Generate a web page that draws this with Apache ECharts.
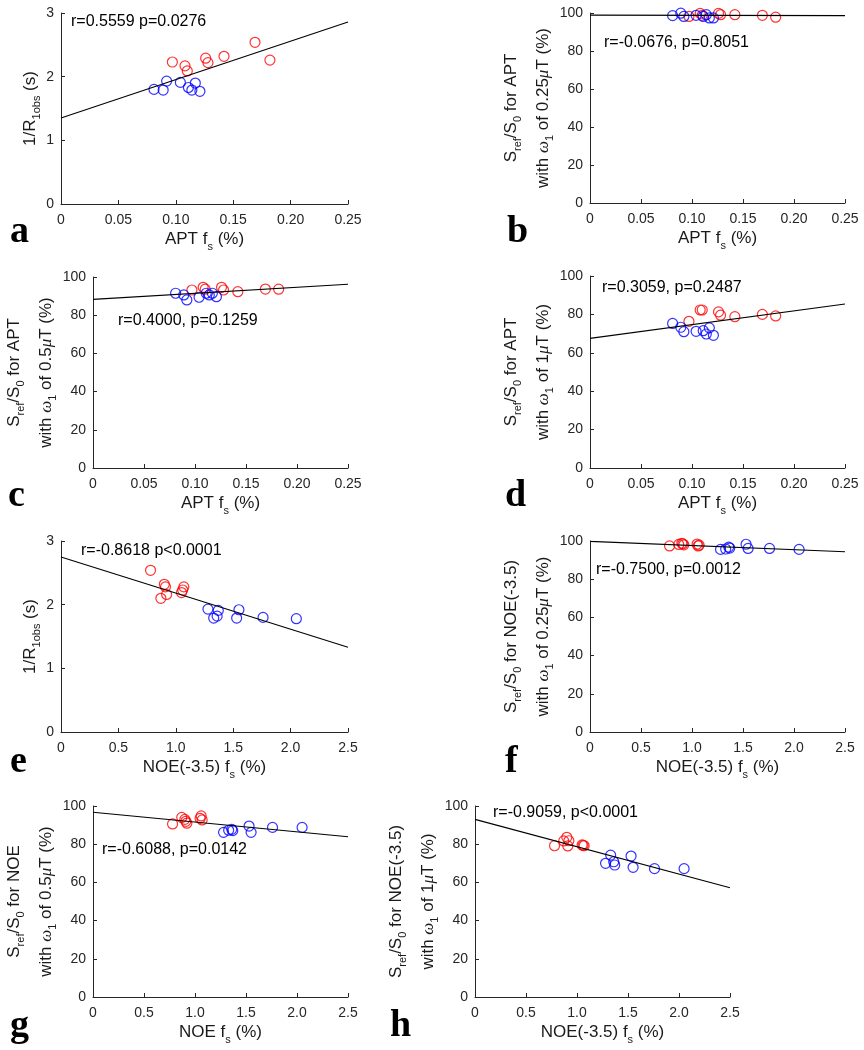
<!DOCTYPE html>
<html><head><meta charset="utf-8">
<script src="https://cdn.jsdelivr.net/npm/echarts@6/dist/echarts.min.js"></script>
<style>html,body{margin:0;padding:0;background:#fff}#c{width:864px;height:1050px}</style>
</head><body><div id="c"></div>
<script>
// ---------- data ----------
const aptRedX  = [0.097, 0.108, 0.110, 0.126, 0.128, 0.142, 0.169, 0.182];
const aptBlueX = [0.081, 0.089, 0.092, 0.104, 0.111, 0.114, 0.117, 0.121];
const noeRedX  = [0.78, 0.87, 0.90, 0.91, 0.92, 1.05, 1.06, 1.07];
const noeBlueX = [1.28, 1.33, 1.36, 1.37, 1.53, 1.55, 1.76, 2.05];

const aRedY  = [2.23, 2.17, 2.09, 2.29, 2.22, 2.32, 2.54, 2.26];
const aBlueY = [1.80, 1.79, 1.93, 1.91, 1.83, 1.79, 1.90, 1.77];
const bRedY  = [98.2, 99.8, 98.8, 99.8, 99.1, 99.1, 98.8, 97.8];
const bBlueY = [98.6, 99.9, 98.2, 98.8, 98.2, 99.1, 97.4, 97.4];
const cRedY  = [93.2, 94.6, 93.6, 94.6, 93.2, 92.3, 93.7, 93.6];
const cBlueY = [91.5, 90.6, 88.0, 89.4, 91.5, 90.6, 91.5, 89.7];
const dRedY  = [76.4, 82.3, 82.3, 81.3, 79.6, 78.8, 80.0, 79.2];
const dBlueY = [75.3, 73.3, 71.0, 71.2, 71.5, 69.8, 73.0, 69.1];
const eRedY  = [2.54, 2.10, 2.32, 2.28, 2.16, 2.19, 2.23, 2.28];
const eBlueY = [1.93, 1.79, 1.82, 1.91, 1.79, 1.92, 1.80, 1.78];
const fRedY  = [97.4, 98.2, 98.8, 98.5, 98.0, 98.4, 97.4, 97.8];
const fBlueY = [95.6, 95.8, 96.8, 96.3, 98.3, 96.1, 96.1, 95.6];
const gRedY  = [90.6, 94.0, 93.0, 92.0, 91.0, 93.5, 94.8, 92.7];
const gBlueY = [86.2, 87.3, 87.8, 87.1, 89.5, 86.2, 88.8, 88.8];
const hRedY  = [79.2, 81.7, 83.6, 79.1, 81.8, 79.6, 79.4, 79.2];
const hBlueY = [70.0, 74.3, 70.8, 69.1, 73.8, 67.9, 67.2, 67.2];

// regression line end points [y at x=0, y at x=max]
const fitA = [1.35, 2.86];
const fitB = [98.9, 98.6];
const fitC = [88.3, 96.2];
const fitD = [67.5, 85.4];
const fitE = [2.75, 1.33];
const fitF = [99.8, 94.4];
const fitG = [96.7, 83.9];
const fitH = [93.0, 57.2];

const aptXTicks = [0, 0.05, 0.10, 0.15, 0.20, 0.25];
const noeXTicks = [0, 0.5, 1.0, 1.5, 2.0, 2.5];
const t1Ticks = [0, 1, 2, 3];
const pctTicks = [0, 20, 40, 60, 80, 100];

const statsText = [
  'r=0.5559 p=0.0276', 'r=-0.0676, p=0.8051', 'r=0.4000, p=0.1259', 'r=0.3059, p=0.2487',
  'r=-0.8618 p<0.0001', 'r=-0.7500, p=0.0012', 'r=-0.6088, p=0.0142', 'r=-0.9059, p<0.0001'
];
const panelLetters = ['a','b','c','d','e','f','g','h'];

// ---------- labels ----------
const satLabel = (target, b1) =>
  '{n|S}{s|ref}{n|/S}{s|0}{n| for ' + target + '}\n{n|with }{g|\u03c9}{s|1}{n| of ' + b1 + '}{g|\u03bc}{n|T (%)}';
const t1Label = '{n|1/R}{s|1obs}{n| (s)}';
const xLabel = (p) => '{n|' + p + ' f}{s|s}{n| (%)}';

// ---------- layout ----------
const F = '"Liberation Sans", Arial, sans-serif';
const TXT = '#1a1a1a';
const AX = '#262626';
const rich = {
  n: {fontSize: 17, fontFamily: F, color: TXT, verticalAlign: 'top', padding: [6, 0, 0, 0]},
  s: {fontSize: 11, fontFamily: F, color: TXT, verticalAlign: 'top', padding: [16, 0, 5, 0]},
  g: {fontSize: 17, fontFamily: '"Liberation Serif", serif', fontStyle: 'italic', color: TXT, verticalAlign: 'top', padding: [6, 0, 0, 0]}
};

const panels = [
  {rect: [61, 13, 287, 191],  xt: aptXTicks, dec: 2, yt: t1Ticks,  rx: aptRedX, bx: aptBlueX, ry: aRedY, by: aBlueY, fit: fitA, xn: xLabel('APT'), yn: t1Label, ygap: 11, stat: [71, 22],  let: [10, 232]},
  {rect: [590, 13, 255, 190], xt: aptXTicks, dec: 2, yt: pctTicks, rx: aptRedX, bx: aptBlueX, ry: bRedY, by: bBlueY, fit: fitB, xn: xLabel('APT'), yn: satLabel('APT', '0.25'), ygap: 28, stat: [604, 43], let: [507, 232]},
  {rect: [93, 277, 255, 191], xt: aptXTicks, dec: 2, yt: pctTicks, rx: aptRedX, bx: aptBlueX, ry: cRedY, by: cBlueY, fit: fitC, xn: xLabel('APT'), yn: satLabel('APT', '0.5'), ygap: 28, stat: [118, 321], let: [8, 496]},
  {rect: [590, 276, 255, 192], xt: aptXTicks, dec: 2, yt: pctTicks, rx: aptRedX, bx: aptBlueX, ry: dRedY, by: dBlueY, fit: fitD, xn: xLabel('APT'), yn: satLabel('APT', '1'), ygap: 28, stat: [602, 288], let: [505, 496]},
  {rect: [61, 541, 287, 191], xt: noeXTicks, dec: 1, yt: t1Ticks,  rx: noeRedX, bx: noeBlueX, ry: eRedY, by: eBlueY, fit: fitE, xn: xLabel('NOE(-3.5)'), yn: t1Label, ygap: 11, stat: [81, 551], let: [10, 762]},
  {rect: [590, 541, 255, 191], xt: noeXTicks, dec: 1, yt: pctTicks, rx: noeRedX, bx: noeBlueX, ry: fRedY, by: fBlueY, fit: fitF, xn: xLabel('NOE(-3.5)'), yn: satLabel('NOE(-3.5)', '0.25'), ygap: 28, stat: [596, 570], let: [505, 762]},
  {rect: [93, 806, 255, 191], xt: noeXTicks, dec: 1, yt: pctTicks, rx: noeRedX, bx: noeBlueX, ry: gRedY, by: gBlueY, fit: fitG, xn: xLabel('NOE'), yn: satLabel('NOE', '0.5'), ygap: 28, stat: [102, 850], let: [10, 1026]},
  {rect: [475, 806, 255, 191], xt: noeXTicks, dec: 1, yt: pctTicks, rx: noeRedX, bx: noeBlueX, ry: hRedY, by: hBlueY, fit: fitH, xn: xLabel('NOE(-3.5)'), yn: satLabel('NOE(-3.5)', '1'), ygap: 28, stat: [493, 813], let: [390, 1026]}
];

const grid = [], xAxis = [], yAxis = [], series = [], graphic = [];
const zip = (xs, ys) => xs.map((x, i) => [x, ys[i]]);

panels.forEach((p, i) => {
  grid.push({left: p.rect[0], top: p.rect[1], width: p.rect[2], height: p.rect[3], outerBoundsMode: 'none', containLabel: false});
  const xmin = p.xt[0], xmax = p.xt[p.xt.length - 1];
  const ymin = p.yt[0], ymax = p.yt[p.yt.length - 1];
  const common = {
    axisLine: {show: true, onZero: false, lineStyle: {color: AX, width: 1}},
    axisTick: {show: true, inside: true, length: 4, lineStyle: {color: AX}},
    splitLine: {show: false},
    nameLocation: 'middle',
    nameTextStyle: {rich: rich}
  };
  xAxis.push(Object.assign({}, common, {
    type: 'value', gridIndex: i, min: xmin, max: xmax, interval: p.xt[1] - p.xt[0],
    axisLabel: {color: AX, fontSize: 14, fontFamily: F, margin: 9,
      formatter: v => (v === 0 ? '0' : v.toFixed(p.dec))},
    name: p.xn, nameGap: 21
  }));
  yAxis.push(Object.assign({}, common, {
    type: 'value', gridIndex: i, min: ymin, max: ymax, interval: p.yt[1] - p.yt[0],
    axisLabel: {color: AX, fontSize: 14, fontFamily: F, margin: 7},
    name: p.yn, nameGap: p.ygap, nameRotate: 90
  }));
  const sc = (data, col) => ({
    type: 'scatter', xAxisIndex: i, yAxisIndex: i, data: data,
    symbol: 'circle', symbolSize: 10,
    itemStyle: {color: 'rgba(0,0,0,0)', borderColor: col, borderWidth: 1.2},
    emphasis: {disabled: true}, silent: true
  });
  series.push(sc(zip(p.rx, p.ry), '#ff0000'));
  series.push(sc(zip(p.bx, p.by), '#0000ff'));
  series.push({
    type: 'line', xAxisIndex: i, yAxisIndex: i,
    data: [[xmin, p.fit[0]], [xmax, p.fit[1]]],
    showSymbol: false, symbol: 'none',
    lineStyle: {color: '#000', width: 1.1}, silent: true, z: 3
  });
  graphic.push({type: 'text', x: p.stat[0], y: p.stat[1],
    style: {text: statsText[i], font: '16px ' + F, fill: '#000', verticalAlign: 'middle', align: 'left'}});
  graphic.push({type: 'text', x: p.let[0], y: p.let[1],
    style: {text: panelLetters[i], font: 'bold 38px "Liberation Serif", "Times New Roman", serif', fill: '#000', verticalAlign: 'middle', align: 'left'}});
});

const chart = echarts.init(document.getElementById('c'), null, {renderer: 'canvas'});
chart.setOption({
  animation: false,
  backgroundColor: '#fff',
  grid: grid, xAxis: xAxis, yAxis: yAxis, series: series, graphic: graphic
});
</script></body></html>
